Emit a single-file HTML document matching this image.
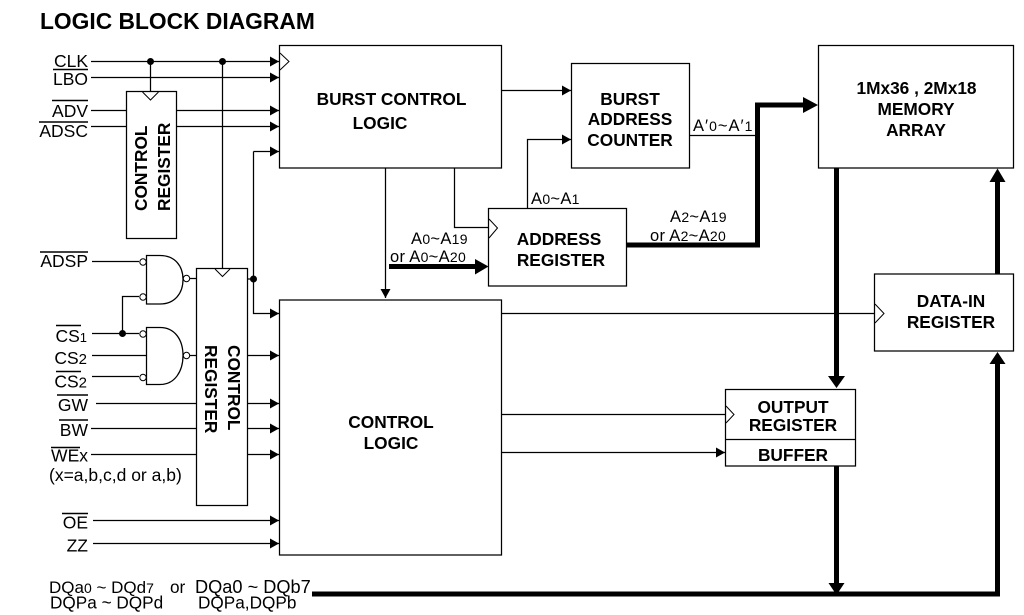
<!DOCTYPE html>
<html><head><meta charset="utf-8"><style>
html,body{margin:0;padding:0;background:#fff}
svg{display:block}
text{font-family:"Liberation Sans",sans-serif;fill:#000}
.b{font-weight:bold;font-size:17.3px;text-anchor:middle}
.r{font-weight:bold;font-size:17.3px;text-anchor:start}
.l{font-size:17.5px;text-anchor:end}
.d{font-size:17.2px}
.a{font-size:16.5px;letter-spacing:.3px}
.w{stroke:#000;stroke-width:1.25;fill:none}
.n{fill:#fff;stroke:#000;stroke-width:1.25}
.t{stroke:#000;stroke-width:5;fill:none}
</style></head><body>
<svg width="1024" height="615" viewBox="0 0 1024 615" xmlns="http://www.w3.org/2000/svg">
<defs>
<marker id="a" markerUnits="userSpaceOnUse" markerWidth="10" markerHeight="12" refX="9" refY="6" orient="auto"><path d="M0 1L9 6L0 11Z" fill="#000"/></marker>
</defs>
<text x="40" y="29" style="font-size:22.8px;font-weight:bold">LOGIC BLOCK DIAGRAM</text>

<!-- thin connectors -->
<g class="w">
<path d="M91 61.5H279" marker-end="url(#a)"/>
<path d="M91 77.5H279" marker-end="url(#a)"/>
<path d="M91 110.5H127M177 110.5H279" marker-end="url(#a)"/>
<path d="M91 126.5H127M177 126.5H279" marker-end="url(#a)"/>
<path d="M150.5 61V92"/>
<path d="M222.5 61V268"/>
<path d="M253.5 151.5H279" marker-end="url(#a)"/>
<path d="M253.5 151.5V313.5H279" marker-end="url(#a)"/>
<path d="M247 279H253"/>
<path d="M92 261.5H139"/>
<path d="M122.5 333V296.5H139"/>
<path d="M92 333.5H139"/>
<path d="M92 355.5H147"/>
<path d="M92 376.5H139"/>
<path d="M190 278.5H196.5M190 355.5H196.5"/>
<path d="M247 355.5H279" marker-end="url(#a)"/>
<path d="M96 403.5H196.5"/>
<path d="M247 403.5H279" marker-end="url(#a)"/>
<path d="M91 428.5H196.5"/>
<path d="M247 428.5H279" marker-end="url(#a)"/>
<path d="M91 454.5H196.5"/>
<path d="M247 454.5H279" marker-end="url(#a)"/>
<path d="M93 520.5H279" marker-end="url(#a)"/>
<path d="M93 543.5H279" marker-end="url(#a)"/>
<path d="M501 90.5H571" marker-end="url(#a)"/>
<path d="M385.5 168V298" marker-end="url(#a)"/>
<path d="M454.5 168V227.5H488.5"/>
<path d="M527.5 208V139.5H571" marker-end="url(#a)"/>
<path d="M690 135.5H756"/>
<path d="M501 313.5H874.5"/>
<path d="M501 414.5H725.5"/>
<path d="M501 452.5H725" marker-end="url(#a)"/>
</g>

<!-- boxes -->
<rect class="n" x="279.5" y="45.5" width="222" height="122.5"/>
<rect class="n" x="279.5" y="300" width="222" height="255"/>
<rect class="n" x="571.5" y="63.5" width="118" height="104.5"/>
<rect class="n" x="818.5" y="45.5" width="195" height="122.5"/>
<rect class="n" x="488.5" y="208.5" width="138" height="77.5"/>
<rect class="n" x="874.5" y="274" width="139" height="77"/>
<rect class="n" x="725.5" y="389.5" width="130" height="76.5"/>
<path class="w" d="M725.5 439.5H855.5"/>
<rect class="n" x="126.5" y="91.5" width="50" height="147"/>
<rect class="n" x="196.5" y="268.5" width="51" height="237"/>

<!-- clock triangles -->
<g class="w" style="stroke-width:1">
<path d="M280 53L289 61.5L280 70"/>
<path d="M142.5 92L150.5 100L158.5 92"/>
<path d="M215 269L222.5 276.5L230 269"/>
<path d="M489 219L497.5 228L489 238"/>
<path d="M875 304L884 313.5L875 323"/>
<path d="M726 406L734 414.5L726 423"/>
</g>

<!-- gates -->
<path class="w" d="M146.5 255.5H160C175 255.5 183 266 183 279.5C183 293 175 304 160 304H146.5Z"/>
<path class="w" d="M146.5 327.5H160C175 327.5 183 340 183 355.5C183 371 175 384.5 160 384.5H146.5Z"/>
<g fill="#fff" stroke="#000" stroke-width="1">
<circle cx="143" cy="262" r="3.2"/><circle cx="143" cy="297" r="3.2"/>
<circle cx="143" cy="334" r="3.2"/><circle cx="143" cy="377.5" r="3.2"/>
<circle cx="186.5" cy="278.5" r="3.2"/><circle cx="186.5" cy="355.5" r="3.2"/>
</g>
<g fill="#000">
<circle cx="150.5" cy="61.5" r="3.5"/><circle cx="222.5" cy="61.5" r="3.5"/>
<circle cx="253.5" cy="279" r="3.5"/><circle cx="122.5" cy="333.5" r="3.5"/>
</g>

<!-- thick buses -->
<path class="t" d="M389 266.5H477"/>
<path d="M475 259L488.5 266.5L475 274.500Z" fill="#000"/>
<path class="t" d="M626.500 245H757.500V105H806"/>
<path d="M803 97L818 105L803 113Z" fill="#000"/>
<path class="t" d="M836.500 168V378"/>
<path d="M828 376L836.500 388L845 376Z" fill="#000"/>
<path class="t" d="M836.500 466V584"/>
<path d="M828.500 583L836.500 595L844.500 583Z" fill="#000"/>
<path class="t" d="M312 594H997.500V362"/>
<path d="M989.500 364L997.500 352L1005.500 364Z" fill="#000"/>
<path class="t" d="M997.500 274V180"/>
<path d="M989.500 182L997.500 168.500L1005.500 182Z" fill="#000"/>

<!-- block labels -->
<text class="b" x="391.500" y="105">BURST CONTROL</text>
<text class="b" x="380" y="129">LOGIC</text>
<text class="b" x="630" y="105">BURST</text>
<text class="b" x="630" y="125">ADDRESS</text>
<text class="b" x="630" y="146">COUNTER</text>
<text class="b" x="916.500" y="94">1Mx36 , 2Mx18</text>
<text class="b" x="916" y="115">MEMORY</text>
<text class="b" x="916" y="136">ARRAY</text>
<text class="b" x="559" y="245">ADDRESS</text>
<text class="b" x="561" y="266">REGISTER</text>
<text class="b" x="951" y="307">DATA-IN</text>
<text class="b" x="951" y="328">REGISTER</text>
<text class="b" x="391" y="428">CONTROL</text>
<text class="b" x="391" y="449">LOGIC</text>
<text class="b" x="793" y="413">OUTPUT</text>
<text class="b" x="793" y="431">REGISTER</text>
<text class="b" x="793" y="461">BUFFER</text>
<text class="r" transform="translate(147 211) rotate(-90)">CONTROL</text>
<text class="r" transform="translate(170 211) rotate(-90)">REGISTER</text>
<text class="r" transform="translate(228 345) rotate(90)">CONTROL</text>
<text class="r" transform="translate(205 345) rotate(90)">REGISTER</text>

<!-- signal labels -->
<text class="l" x="88" y="67">CLK</text>
<text class="l" x="88" y="85">LBO</text>
<text class="l" x="88" y="117">ADV</text>
<text class="l" x="88" y="137">ADSC</text>
<text class="l" x="88" y="267">ADSP</text>
<text class="l" x="87" y="342">CS<tspan font-size="13">1</tspan></text>
<text class="l" x="87" y="364">CS<tspan font-size="15">2</tspan></text>
<text class="l" x="87" y="387.500">CS<tspan font-size="15">2</tspan></text>
<text class="l" x="88" y="411">GW</text>
<text class="l" x="88" y="436">BW</text>
<text class="l" x="88" y="461.500">WEx</text>
<text x="49" y="481" style="font-size:17.500px">(x=a,b,c,d or a,b)</text>
<text class="l" x="88" y="528.500">OE</text>
<text class="l" x="88" y="551.500">ZZ</text>
<g stroke="#000" stroke-width="1.5">
<path d="M53 69.500H88"/>
<path d="M52 100.500H88M39 122H88"/>
<path d="M40 252H88M56 325.500H81M56 371.500H81"/>
<path d="M57 395H88M59 420H88M51 447.500H80M62 513.500H88"/>
</g>
<text x="49" y="593" style="font-size:17px">DQa<tspan font-size="14">0</tspan> ~ DQd<tspan font-size="14">7</tspan></text>
<text class="d" x="170" y="593">or</text>
<text x="195" y="593" style="font-size:18.200px">DQa0 ~ DQb7</text>
<text class="d" x="50" y="608.500">DQPa ~ DQPd</text>
<text class="d" x="198" y="608.500">DQPa,DQPb</text>

<text class="a" x="411" y="244">A<tspan font-size="14">0</tspan>~A<tspan font-size="14">19</tspan></text>
<text class="a" x="390" y="262">or A<tspan font-size="14">0</tspan>~A<tspan font-size="14">20</tspan></text>
<text class="a" x="531" y="204">A<tspan font-size="14">0</tspan>~A<tspan font-size="14">1</tspan></text>
<text class="a" x="670" y="222">A<tspan font-size="14">2</tspan>~A<tspan font-size="14">19</tspan></text>
<text class="a" x="650" y="241">or A<tspan font-size="14">2</tspan>~A<tspan font-size="14">20</tspan></text>
<text x="693" y="131" style="font-size:16.500px;letter-spacing:1px">A′<tspan font-size="14">0</tspan>~A′<tspan font-size="14">1</tspan></text>
</svg>
</body></html>
